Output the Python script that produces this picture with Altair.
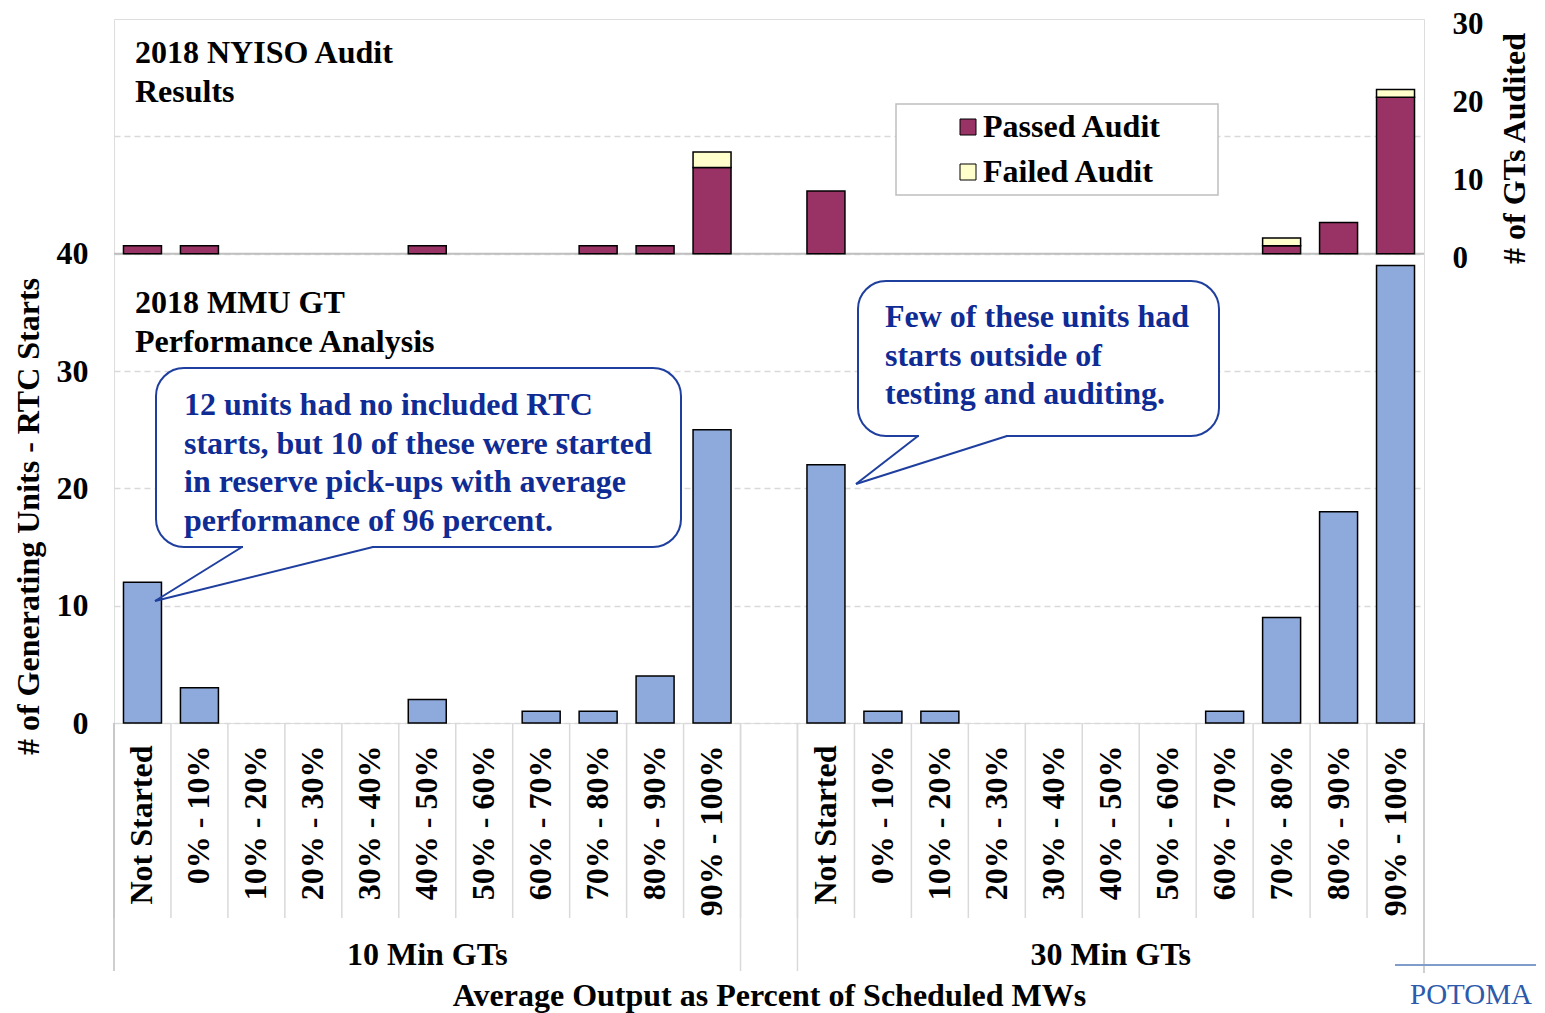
import altair as alt
import pandas as pd

# ---------------- data ----------------
categories = ["Not Started", "0% - 10%", "10% - 20%", "20% - 30%", "30% - 40%",
              "40% - 50%", "50% - 60%", "60% - 70%", "70% - 80%", "80% - 90%", "90% - 100%"]
groups = ["10 Min GTs", "30 Min GTs"]

# MMU GT performance analysis (# of generating units - RTC starts)
rtc_10min = [12, 3, 0, 0, 0, 2, 0, 1, 1, 4, 25]
rtc_30min = [22, 1, 1, 0, 0, 0, 0, 1, 9, 18, 39]

# NYISO audit results (# of GTs audited)
passed_10min = [1, 1, 0, 0, 0, 1, 0, 0, 1, 1, 11]
failed_10min = [0, 0, 0, 0, 0, 0, 0, 0, 0, 0, 2]
passed_30min = [8, 0, 0, 0, 0, 0, 0, 0, 1, 4, 20]
failed_30min = [0, 0, 0, 0, 0, 0, 0, 0, 1, 0, 1]

statuses = ["Passed Audit", "Failed Audit"]
status_colors = ["#993366", "#FFFFCC"]

# ---------------- tables ----------------
keys_10 = [f"{groups[0]}|{c}" for c in categories]
keys_30 = [f"{groups[1]}|{c}" for c in categories]
domain = keys_10 + ["gap"] + keys_30

rtc_rows = []
for k, v in zip(keys_10 + keys_30, rtc_10min + rtc_30min):
    if v > 0:
        rtc_rows.append({"key": k, "value": v})
rtc_df = pd.DataFrame(rtc_rows)

audit_rows = []
for keys, passed, failed in [(keys_10, passed_10min, failed_10min), (keys_30, passed_30min, failed_30min)]:
    for k, p, f in zip(keys, passed, failed):
        if p > 0:
            audit_rows.append({"key": k, "status": statuses[0], "count": p, "rank": 0})
        if f > 0:
            audit_rows.append({"key": k, "status": statuses[1], "count": f, "rank": 1})
audit_df = pd.DataFrame(audit_rows)

sep_df = pd.DataFrame({"key": domain})
group_sep_df = pd.DataFrame({"key": ["gap", keys_30[0]]})
group_lbl_df = pd.DataFrame({"key": [keys_10[5], keys_30[5]], "label": groups})

# ---------------- styling ----------------
FONT = "Liberation Serif"
GRID = "#D9D9D9"
BORDER = "#BFBFBF"
NAVY = "#0F2B94"
CALLOUT_EDGE = "#1F3F9F"
W, H = 1310, 704

xscale = alt.Scale(domain=domain, paddingInner=0, paddingOuter=0)
xaxis = alt.Axis(
    labelExpr="indexof(datum.label, '|') >= 0 ? split(datum.label, '|')[1] : ''",
    labelAngle=270, labelFont=FONT, labelFontSize=32, labelFontWeight="bold",
    labelColor="black", labelPadding=22, labelLimit=400, ticks=False, domain=False,
    title="Average Output as Percent of Scheduled MWs", titleFont=FONT, titleFontSize=32,
    titleFontWeight="bold", titleColor="black", titleX=W / 2, titleY=282,
    titleBaseline="alphabetic", titleAlign="center",
)


def xenc(**kw):
    return alt.X("key:N", scale=xscale, axis=xaxis, **kw)


left_axis = alt.Axis(
    values=[0, 10, 20, 30, 40, 50], labelExpr="datum.value <= 40 ? datum.label : ''",
    grid=True, gridDash=[6, 4], gridColor=GRID, gridWidth=1.5, ticks=False, domain=False,
    labelFont=FONT, labelFontSize=32, labelFontWeight="bold", labelColor="black", labelPadding=26,
    title="# of Generating Units - RTC Starts", titleFont=FONT, titleFontSize=32,
    titleFontWeight="bold", titleColor="black", titleAngle=270, titleX=-86, titleY=497,
    titleAlign="center", titleBaseline="middle",
)
right_axis = alt.Axis(
    orient="right", values=[0, 10, 20, 30], grid=False, ticks=False, domain=False,
    labelFont=FONT, labelFontSize=31, labelFontWeight="bold", labelColor="black", labelPadding=28,
    labelOffset=5,
    title="# of GTs Audited", titleFont=FONT, titleFontSize=32, titleFontWeight="bold",
    titleColor="black", titleAngle=270, titleX=90, titleY=129,
    titleAlign="center", titleBaseline="middle",
)

# ---------------- layers ----------------
panel_split = alt.Chart(pd.DataFrame({"v": [40]})).mark_rule(color=BORDER, strokeWidth=2).encode(
    y=alt.Y("v:Q", scale=alt.Scale(domain=[0, 60], nice=False), axis=None),
    x=alt.value(0), x2=alt.value(W),
)

short_seps = alt.Chart(sep_df).mark_rule(color=GRID, strokeWidth=1.5).encode(
    x=xenc(bandPosition=0), y=alt.value(H), y2=alt.value(H + 195)
)
long_seps = alt.Chart(group_sep_df).mark_rule(color=GRID, strokeWidth=1.5).encode(
    x=xenc(bandPosition=0), y=alt.value(H), y2=alt.value(H + 248)
)
edge_left = alt.Chart(sep_df.head(1)).mark_rule(color=BORDER, strokeWidth=1.5).encode(
    x=alt.value(0), y=alt.value(H), y2=alt.value(H + 248)
)
edge_right = alt.Chart(sep_df.head(1)).mark_rule(color=BORDER, strokeWidth=1.5).encode(
    x=alt.value(W), y=alt.value(H), y2=alt.value(H + 250)
)

rtc_bars = alt.Chart(rtc_df).mark_bar(
    width=alt.RelativeBandSize(0.667), fill="#8EA9DB", stroke="black", strokeWidth=1.5
).encode(
    x=xenc(),
    y=alt.Y("value:Q", scale=alt.Scale(domain=[0, 60], nice=False), axis=left_axis),
)

audit_bars = alt.Chart(audit_df).mark_bar(
    width=alt.RelativeBandSize(0.667), stroke="black", strokeWidth=1.5, opacity=1
).encode(
    x=xenc(),
    y=alt.Y("count:Q", stack="zero", scale=alt.Scale(domain=[-60, 30], nice=False), axis=right_axis),
    color=alt.Color("status:N", scale=alt.Scale(domain=statuses, range=status_colors), legend=None),
    order=alt.Order("rank:Q", sort="ascending"),
)

# legend (drawn manually as in the original)
one = pd.DataFrame({"a": [0]})
legend_box = alt.Chart(one).mark_rect(fill="white", stroke=BORDER, strokeWidth=1.5).encode(
    x=alt.value(782), x2=alt.value(1104), y=alt.value(85), y2=alt.value(176)
)
legend_sq1 = alt.Chart(one).mark_rect(fill=status_colors[0], stroke="black", strokeWidth=1).encode(
    x=alt.value(846), x2=alt.value(862), y=alt.value(100), y2=alt.value(116)
)
legend_sq2 = alt.Chart(one).mark_rect(fill=status_colors[1], stroke="black", strokeWidth=1).encode(
    x=alt.value(846), x2=alt.value(862), y=alt.value(145), y2=alt.value(161)
)
legend_t1 = alt.Chart(one).mark_text(
    text=statuses[0], font=FONT, fontSize=32, fontWeight="bold", color="black",
    align="left", baseline="alphabetic"
).encode(x=alt.value(869), y=alt.value(118))
legend_t2 = alt.Chart(one).mark_text(
    text=statuses[1], font=FONT, fontSize=32, fontWeight="bold", color="black",
    align="left", baseline="alphabetic"
).encode(x=alt.value(869), y=alt.value(163))

title_top = alt.Chart(one).mark_text(
    text=["2018 NYISO Audit", "Results"], font=FONT, fontSize=32, fontWeight="bold",
    color="black", align="left", baseline="alphabetic", lineHeight=38.5
).encode(x=alt.value(21), y=alt.value(44))
title_bottom = alt.Chart(one).mark_text(
    text=["2018 MMU GT", "Performance Analysis"], font=FONT, fontSize=32, fontWeight="bold",
    color="black", align="left", baseline="alphabetic", lineHeight=38.5
).encode(x=alt.value(21), y=alt.value(294))


def callout(x0, x1, y0, y1, b0, b1, tip, lines, tx, ty):
    box = alt.Chart(one).mark_rect(
        fill="white", stroke=CALLOUT_EDGE, strokeWidth=2, cornerRadius=28
    ).encode(x=alt.value(x0), x2=alt.value(x1), y=alt.value(y0), y2=alt.value(y1))
    gap = alt.Chart(one).mark_rule(color="white", strokeWidth=5).encode(
        x=alt.value(b0 + 1), x2=alt.value(b1 - 1), y=alt.value(y1)
    )
    e1 = alt.Chart(one).mark_rule(color=CALLOUT_EDGE, strokeWidth=2).encode(
        x=alt.value(b0), y=alt.value(y1), x2=alt.value(tip[0]), y2=alt.value(tip[1])
    )
    e2 = alt.Chart(one).mark_rule(color=CALLOUT_EDGE, strokeWidth=2).encode(
        x=alt.value(b1), y=alt.value(y1), x2=alt.value(tip[0]), y2=alt.value(tip[1])
    )
    txt = alt.Chart(one).mark_text(
        text=lines, font=FONT, fontSize=32, fontWeight="bold", color=NAVY,
        align="left", baseline="alphabetic", lineHeight=38.5
    ).encode(x=alt.value(tx), y=alt.value(ty))
    return [box, gap, e1, e2, txt]


callout1 = callout(42, 567, 349, 528, 128, 259, (41, 582),
                   ["12 units had no included RTC", "starts, but 10 of these were started",
                    "in reserve pick-ups with average", "performance of 96 percent."], 70, 396)
callout2 = callout(744, 1105, 262, 417, 804, 893, (742, 465),
                   ["Few of these units had", "starts outside of", "testing and auditing."], 771, 308)

group_labels = alt.Chart(group_lbl_df).mark_text(
    font=FONT, fontSize=32, fontWeight="bold", color="black", baseline="middle"
).encode(x=xenc(), y=alt.value(936), text="label:N")

logo_line = alt.Chart(one).mark_rule(color="#7F9CCB", strokeWidth=2).encode(
    x=alt.value(1281), x2=alt.value(1422), y=alt.value(946)
)
logo = alt.Chart(one).mark_text(
    text="POTOMA", font=FONT, fontSize=29, color="#2E5AAC", align="left", baseline="alphabetic"
).encode(x=alt.value(1296), y=alt.value(985))

layers = [panel_split, short_seps, long_seps, edge_left, edge_right, rtc_bars, audit_bars,
          legend_box, legend_sq1, legend_sq2, legend_t1, legend_t2, title_top, title_bottom,
          *callout1, *callout2, group_labels, logo_line, logo]

chart = alt.layer(*layers).resolve_scale(y="independent").properties(
    width=W, height=H,
    autosize=alt.AutoSizeParams(type="none"),
    padding={"left": 106, "top": 11, "right": 113, "bottom": 290},
).configure_view(stroke=BORDER, strokeWidth=1.5).configure(background="white")

chart.save("out.html", embed_options={"renderer": "svg", "actions": False})
